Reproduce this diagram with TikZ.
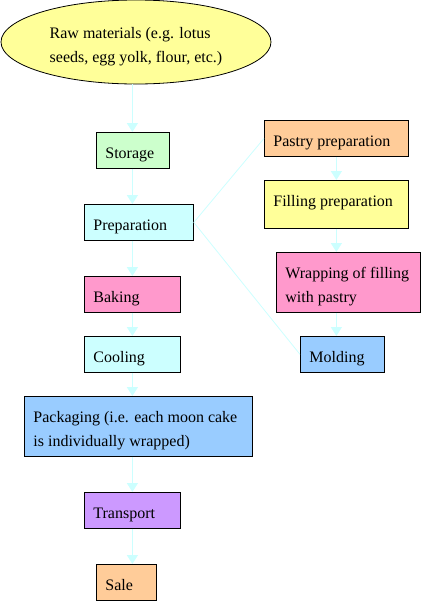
\documentclass[tikz,border=0pt]{standalone}
\usepackage{fontspec}
\setmainfont{Liberation Serif}
\usetikzlibrary{shapes.geometric,arrows.meta}

\definecolor{rawyellow}{HTML}{FFFF99}
\definecolor{mintgreen}{HTML}{CCFFCC}
\definecolor{icecyan}{HTML}{CCFFFF}
\definecolor{rosepink}{HTML}{FF99CC}
\definecolor{apricot}{HTML}{FFCC99}
\definecolor{skyblue}{HTML}{99CCFF}
\definecolor{lilac}{HTML}{CC99FF}

\begin{document}
\begin{tikzpicture}[x=1pt,y=-1pt,
    stage/.style={draw=black, line width=0.8pt, anchor=north west,
      inner xsep=9pt, inner ysep=0pt, align=flush left,
      text height=16pt, text depth=0pt,
      font=\fontsize{16}{24}\selectfont},
    flow/.style={draw=icecyan, line width=1.5pt,
      -{Triangle[width=11pt,length=9pt]}},
    link/.style={draw=icecyan, line width=0.8pt}]
    \useasboundingbox (0,0) rectangle (423,603);

    % main line
    \node[ellipse, draw=black, line width=0.8pt, fill=rawyellow,
      minimum width=270pt, minimum height=84pt, inner sep=0pt, align=left,
      text height=40pt, text depth=0pt,
      font=\fontsize{16}{24}\selectfont] (raw) at (136,42)
      {Raw materials (e.g. lotus\\seeds, egg yolk, flour, etc.)};
    \node[stage, fill=mintgreen, minimum width=73pt, text width=55pt, minimum height=36pt] (storage) at (96,132) {Storage};
    \node[stage, fill=icecyan, minimum width=109pt, text width=91pt, minimum height=36pt] (prep) at (84,204) {Preparation};
    \node[stage, fill=rosepink, minimum width=96pt, text width=78pt, minimum height=36pt] (baking) at (84,276) {Baking};
    \node[stage, fill=icecyan, minimum width=96pt, text width=78pt, minimum height=36pt] (cooling) at (84,336) {Cooling};
    \node[stage, fill=skyblue, minimum width=228pt, text width=210pt, minimum height=60pt, text depth=24pt] (packing) at (24,396)
      {Packaging (i.e. each moon cake\\is individually wrapped)};
    \node[stage, fill=lilac, minimum width=96pt, text width=78pt, minimum height=36pt] (transport) at (84,492) {Transport};
    \node[stage, fill=apricot, minimum width=60pt, text width=42pt, minimum height=36pt] (sale) at (96,564) {Sale};

    % side line
    \node[stage, fill=apricot, minimum width=144pt, text width=126pt, minimum height=36pt] (pastry) at (264,120) {Pastry preparation};
    \node[stage, fill=rawyellow, minimum width=144pt, text width=126pt, minimum height=48pt, text depth=12pt] (filling) at (264,180) {Filling preparation};
    \node[stage, fill=rosepink, minimum width=144pt, text width=126pt, minimum height=60pt, text depth=24pt] (wrapping) at (276,252)
      {Wrapping of filling\\with pastry};
    \node[stage, fill=skyblue, minimum width=84pt, text width=66pt, minimum height=36pt] (molding) at (300,336) {Molding};

    \draw[flow] (raw.south -| transport) -- (storage.north -| transport);
    \draw[flow] (storage.south -| transport) -- (prep.north -| transport);
    \draw[flow] (prep.south -| transport) -- (baking.north -| transport);
    \draw[flow] (baking.south -| transport) -- (cooling.north -| transport);
    \draw[flow] (cooling.south -| transport) -- (packing.north -| transport);
    \draw[flow] (packing.south -| transport) -- (transport.north);
    \draw[flow] (transport.south) -- (sale.north -| transport);

    \draw[flow] (pastry.south) -- (filling.north -| pastry);
    \draw[flow] (filling.south -| pastry) -- (wrapping.north -| pastry);
    \draw[flow] (wrapping.south -| pastry) -- (molding.north -| pastry);

    \draw[link] (prep.east) -- (pastry.west);
    \draw[link] (prep.east) -- (molding.west);
  \end{tikzpicture}
\end{document}
